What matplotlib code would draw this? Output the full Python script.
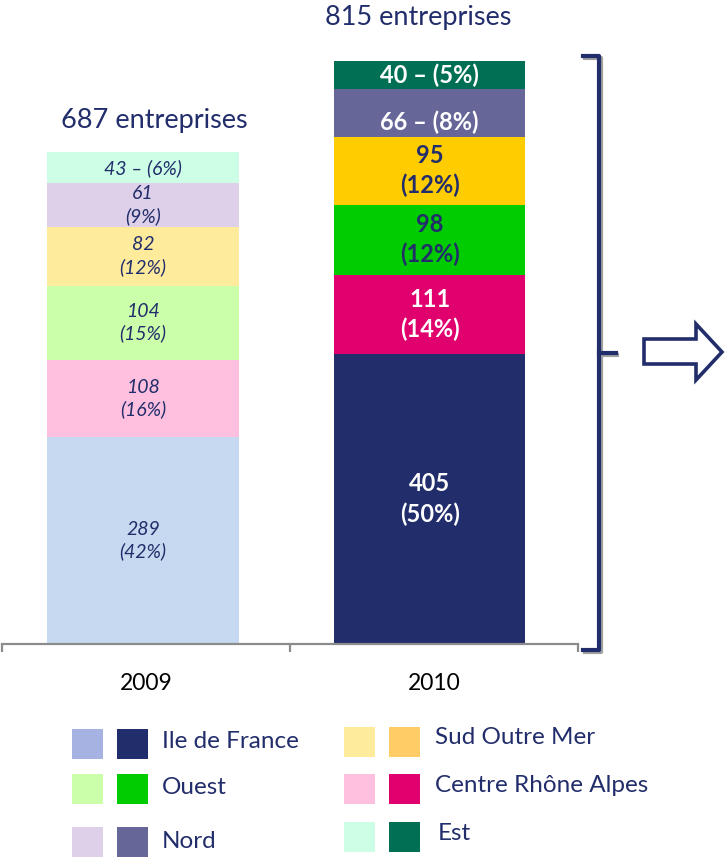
import matplotlib.pyplot as plt
from matplotlib.patches import Rectangle, Polygon
from matplotlib.lines import Line2D

# data
years = ["2009", "2010"]
regions = ["Ile de France", "Centre Rhône Alpes", "Ouest", "Sud Outre Mer", "Nord", "Est"]
counts_2009 = [289, 108, 104, 82, 61, 43]
counts_2010 = [405, 111, 98, 95, 66, 40]
pct_2009 = [42, 16, 15, 12, 9, 6]
pct_2010 = [50, 14, 12, 12, 8, 5]
totals = [687, 815]

# styles
NAVY = "#222D6B"
colors_2009 = ["#C6D9F0", "#FFC0DF", "#CCFFAA", "#FFEB9C", "#DDD0E8", "#CCFFE6"]
colors_2010 = ["#222D6B", "#E0006E", "#00CC00", "#FFCC00", "#666699", "#006F54"]
text_2010 = ["white", "white", NAVY, NAVY, "white", "white"]
single_line_2009 = ["Est"]
single_line_2010 = ["Nord", "Est"]

FONT = "Lato"
plt.rcParams["font.family"] = [FONT, "DejaVu Sans"]

W, H = 727, 859
fig = plt.figure(figsize=(W / 100, H / 100), dpi=100)

# main axes: bottom spine at 644px from top, px per unit ~0.7153
ax = fig.add_axes([2 / W, (H - 644) / H, 576 / W, 644 / H])
ax.set_xlim(-0.5, 1.5)
ax.set_ylim(0, 900)

bar_w = 0.665
xpos = [-0.01, 0.985]
for i, (counts, pcts, cols) in enumerate([(counts_2009, pct_2009, colors_2009),
                                         (counts_2010, pct_2010, colors_2010)]):
    bottom = 0
    for j, (c, p, col) in enumerate(zip(counts, pcts, cols)):
        ax.bar(xpos[i], c, bottom=bottom, width=bar_w, color=col, edgecolor="none")
        region = regions[j]
        if i == 0:
            one = region in single_line_2009
            txt = f"{c} – ({p}%)" if one else f"{c}\n({p}%)"
            ax.text(xpos[i], bottom + c / 2, txt, ha="center", va="center",
                    fontsize=14, style="italic", color=NAVY, linespacing=1.3)
        else:
            one = region in single_line_2010
            txt = f"{c} – ({p}%)" if one else f"{c}\n({p}%)"
            yoff = -13 if region == "Nord" else 0
            ax.text(xpos[i], bottom + c / 2 + yoff, txt, ha="center", va="center",
                    fontsize=17, fontweight="bold", color=text_2010[j],
                    linespacing=1.35)
        bottom += c

# totals above bars
gaps = [32, 43]
for i, t in enumerate(totals):
    ax.annotate(f"{t} entreprises", xy=(xpos[i] + 0.04 - 0.08 * i, t),
                xytext=(0, gaps[i] * 0.72), textcoords="offset points",
                ha="center", va="center", fontsize=19.5, color=NAVY)

for s in ["top", "right", "left"]:
    ax.spines[s].set_visible(False)
ax.spines["bottom"].set_color("#8C8C8C")
ax.spines["bottom"].set_linewidth(1.6)
ax.set_yticks([])
ax.set_xticks([-0.5, 0.5, 1.5])
ax.set_xticklabels([])
ax.tick_params(axis="x", length=6, width=1.6, color="#8C8C8C")
for i, y in enumerate(years):
    ax.text(i, -55, y, ha="center", va="center", fontsize=16.5, color="black")

# bracket on the right (data coords, unclipped)
bx = 1.573
ytop, ybot = totals[1] + 7, -8
ymid = (ytop + ybot) / 2
hook = 0.055
for dx, dy, col in [(0.006, -2.5, "#A0A0A0"), (0, 0, NAVY)]:
    ax.add_line(Line2D([bx - hook + dx, bx + dx, bx + dx, bx - hook + dx],
                       [ytop + dy, ytop + dy, ybot + dy, ybot + dy],
                       color=col, lw=3, clip_on=False, solid_joinstyle="round"))
    ax.add_line(Line2D([bx + dx, bx + 0.058 + dx], [ymid + dy, ymid + dy],
                       color=col, lw=3, clip_on=False))

# block arrow outline (figure pixel space)
ov = fig.add_axes([0, 0, 1, 1], zorder=-1)
ov.set_xlim(0, W)
ov.set_ylim(H, 0)
ov.axis("off")
arrow_pts = [(644, 339), (696, 339), (696, 324), (722, 352), (696, 380),
             (696, 364), (644, 364)]
ov.add_patch(Polygon(arrow_pts, closed=True, fill=False, edgecolor=NAVY, lw=2.6,
                     joinstyle="miter"))

# legend
legend_light = ["#A6B2E2", "#FFC0DF", "#CCFFAA", "#FFEB9C", "#DDD0E8", "#CCFFE6"]
legend_dark = ["#222D6B", "#E0006E", "#00CC00", "#FFCC66", "#666699", "#006F54"]
legend_rows = {
    "Ile de France": (72, 729, 162, 742),
    "Ouest": (72, 774, 162, 788),
    "Nord": (72, 827, 162, 842),
    "Sud Outre Mer": (344, 727, 435, 738),
    "Centre Rhône Alpes": (344, 774, 435, 786),
    "Est": (344, 822, 438, 834),
}
for j, region in enumerate(regions):
    sx, sy, tx, ty = legend_rows[region]
    ov.add_patch(Rectangle((sx, sy), 31, 30, color=legend_light[j], lw=0))
    ov.add_patch(Rectangle((sx + 45, sy), 31, 30, color=legend_dark[j], lw=0))
    ov.text(tx, ty, region, ha="left", va="center", fontsize=17.5, color=NAVY)

fig.savefig("out.png", dpi=100)
